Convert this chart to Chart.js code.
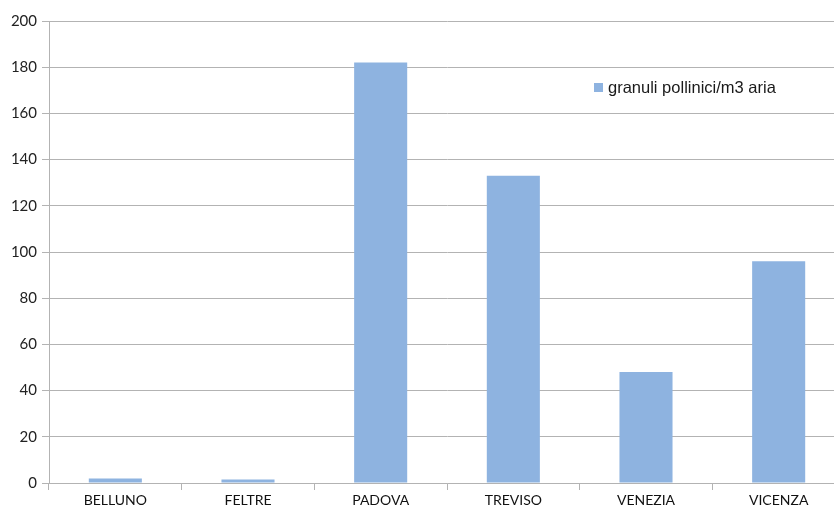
<!DOCTYPE html>
<html>
<head>
<meta charset="utf-8">
<script src="https://cdn.jsdelivr.net/npm/chart.js@4"></script>
<style>
  html, body { margin: 0; padding: 0; background: #fff; overflow: hidden; }
  #wrap { width: 846px; height: 509px; }
</style>
</head>
<body>
<div id="wrap"><canvas id="c" width="846" height="509"></canvas></div>
<script>
// Pollen counts per station
const stations = ['BELLUNO', 'FELTRE', 'PADOVA', 'TREVISO', 'VENEZIA', 'VICENZA'];
const pollen = [2, 1.5, 182, 133, 48, 96];
const seriesLabel = 'granuli pollinici/m3 aria';
const yTicks = [0, 20, 40, 60, 80, 100, 120, 140, 160, 180, 200];

const barColor = '#8eb3e0';
const lineColor = '#b3b3b3';
const fontFamily = 'Lato, "Liberation Sans", sans-serif';

// Legend drawn inside the plot area, upper right
const insideLegend = {
  id: 'insideLegend',
  afterDraw(chart) {
    const ctx = chart.ctx;
    const ds = chart.data.datasets[0];
    ctx.save();
    ctx.fillStyle = ds.backgroundColor;
    ctx.fillRect(594, 83, 9, 9);
    ctx.fillStyle = '#1a1a1a';
    ctx.font = '16.5px "Liberation Sans", Arial, sans-serif';
    ctx.textBaseline = 'middle';
    ctx.textAlign = 'left';
    ctx.fillText(ds.label, 608, 88);
    ctx.restore();
  }
};

new Chart(document.getElementById('c'), {
  type: 'bar',
  data: {
    labels: stations,
    datasets: [{
      label: seriesLabel,
      data: pollen,
      backgroundColor: barColor,
      borderWidth: 0,
      barPercentage: 0.4,
      categoryPercentage: 1.0
    }]
  },
  options: {
    responsive: false,
    animation: false,
    devicePixelRatio: 1,
    layout: { padding: { left: 0, right: 1, top: 21, bottom: 0 } },
    plugins: {
      legend: { display: false },
      tooltip: { enabled: false }
    },
    scales: {
      x: {
        grid: {
          display: true,
          drawOnChartArea: false,
          offset: true,
          color: lineColor,
          tickLength: 7,
          lineWidth: 1
        },
        border: { display: true, color: lineColor, width: 1 },
        ticks: {
          color: '#111',
          font: { family: fontFamily, size: 14 },
          padding: 2,
          maxRotation: 0
        },
        afterFit(scale) { scale.height = 26; }
      },
      y: {
        min: 0,
        max: 200,
        afterBuildTicks(scale) { scale.ticks = yTicks.map(v => ({ value: v })); },
        grid: {
          color: lineColor,
          tickLength: 7,
          lineWidth: 1
        },
        border: { display: true, color: lineColor, width: 1 },
        ticks: {
          color: '#222',
          font: { family: fontFamily, size: 15 },
          padding: 5
        },
        afterFit(scale) { scale.width = 49; }
      }
    }
  },
  plugins: [insideLegend]
});
</script>
</body>
</html>
